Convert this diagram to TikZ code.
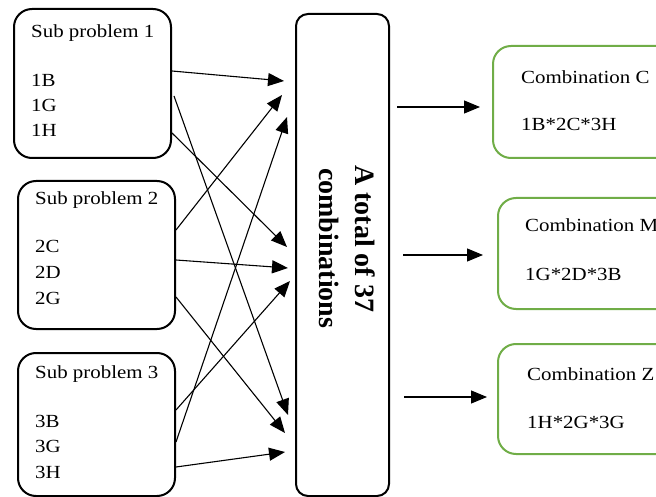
\documentclass[tikz,border=0pt]{standalone}
\usepackage{fontspec}
\setmainfont{Liberation Serif}
\newfontfamily\bodyfont[FakeStretch=1.13]{Liberation Serif}
\usetikzlibrary{arrows.meta,calc}
\definecolor{boxgreen}{HTML}{70AD47}
\begin{document}
\begin{tikzpicture}[x=1pt,y=-1pt,
  box/.style={draw, rectangle, line width=2pt, rounded corners=18pt,
    anchor=north west, inner sep=0pt},
  centrebox/.style={box, rounded corners=12pt},
  resultbox/.style={box, draw=boxgreen},
  txt/.style={anchor=base west, inner sep=0pt,
    font=\bodyfont\fontsize{18.5pt}{20pt}\selectfont},
  bigtxt/.style={anchor=base west, inner sep=0pt, rotate=-90,
    font=\fontsize{28pt}{30pt}\selectfont\bfseries},
  link/.style={line width=1.1pt, -{Triangle[length=16pt,width=13pt]}}
]
\clip (0,0) rectangle (656,497);

% sub-problem boxes
\node[box, minimum width=157pt, minimum height=149pt] (s1) at (13,8) {};
\node[box, minimum width=157pt, minimum height=148pt] (s2) at (17,180) {};
\node[box, minimum width=157pt, minimum height=143pt] (s3) at (17,352) {};

% central box
\node[centrebox, minimum width=93pt, minimum height=482pt] (c) at (295,13) {};

% result boxes (run past the right edge)
\node[resultbox, minimum width=190pt, minimum height=112pt] (rc) at (492,45) {};
\node[resultbox, minimum width=190pt, minimum height=111pt] (rm) at (497,197) {};
\node[resultbox, minimum width=190pt, minimum height=110pt] (rz) at (497,343) {};

% texts of the sub-problem boxes
\node[txt] (t1) at (31,38) {Sub problem 1};
\node[txt] (t1b) at (31,87) {1B};
\node[txt] (t1g) at (31,112) {1G};
\node[txt] (t1h) at (31,137) {1H};

\node[txt] (t2) at (35,205) {Sub problem 2};
\node[txt] (t2c) at (35,253) {2C};
\node[txt] (t2d) at (35,278) {2D};
\node[txt] (t2g) at (35,304) {2G};

\node[txt] (t3) at (35,378) {Sub problem 3};
\node[txt] (t3b) at (35,427) {3B};
\node[txt] (t3g) at (35,452) {3G};
\node[txt] (t3h) at (35,478) {3H};

% rotated central text
\node[bigtxt] (ct1) at (355,165) {A total of 37};
\node[bigtxt] (ct2) at (319,168) {combinations};

% result texts
\node[txt] (rct) at (521,84) {Combination C};
\node[txt] (rcv) at (521,131) {1B*2C*3H};
\node[txt] (rmt) at (525,232) {Combination M};
\node[txt] (rmv) at (525,280) {1G*2D*3B};
\node[txt] (rzt) at (527,380) {Combination Z};
\node[txt] (rzv) at (527,428) {1H*2G*3G};

% arrow tips in front of the central box
\coordinate (e1) at (284,81);
\coordinate (e2) at (288,415);
\coordinate (e3) at (287,247);
\coordinate (e4) at (282,95);
\coordinate (e5) at (288,268);
\coordinate (e6) at (285,433);
\coordinate (e7) at (290,281);
\coordinate (e8) at (287,117);
\coordinate (e9) at (285,452);

\draw[link] (s1.east |- 0,71) -- (e1);
\draw[link] ($(s1.east |- 0,96)+(2,0)$) -- (e2);
\draw[link] (s1.east |- 0,133) -- (e3);
\draw[link] (s2.east |- 0,230) -- (e4);
\draw[link] (s2.east |- 0,260) -- (e5);
\draw[link] (s2.east |- 0,297) -- (e6);
\draw[link] (s3.east |- 0,410) -- (e7);
\draw[link] (s3.east |- 0,442) -- (e8);
\draw[link] (s3.east |- 0,467) -- (e9);

% outputs of the central box
\coordinate (o1) at (397,107);
\coordinate (o2) at (403,255);
\coordinate (o3) at (404,397);
\coordinate (x1) at (480,107);
\coordinate (x2) at (483,255);
\coordinate (x3) at (487,397);
\draw[link] (o1) -- (x1);
\draw[link] (o2) -- (x2);
\draw[link] (o3) -- (x3);
\end{tikzpicture}
\end{document}
